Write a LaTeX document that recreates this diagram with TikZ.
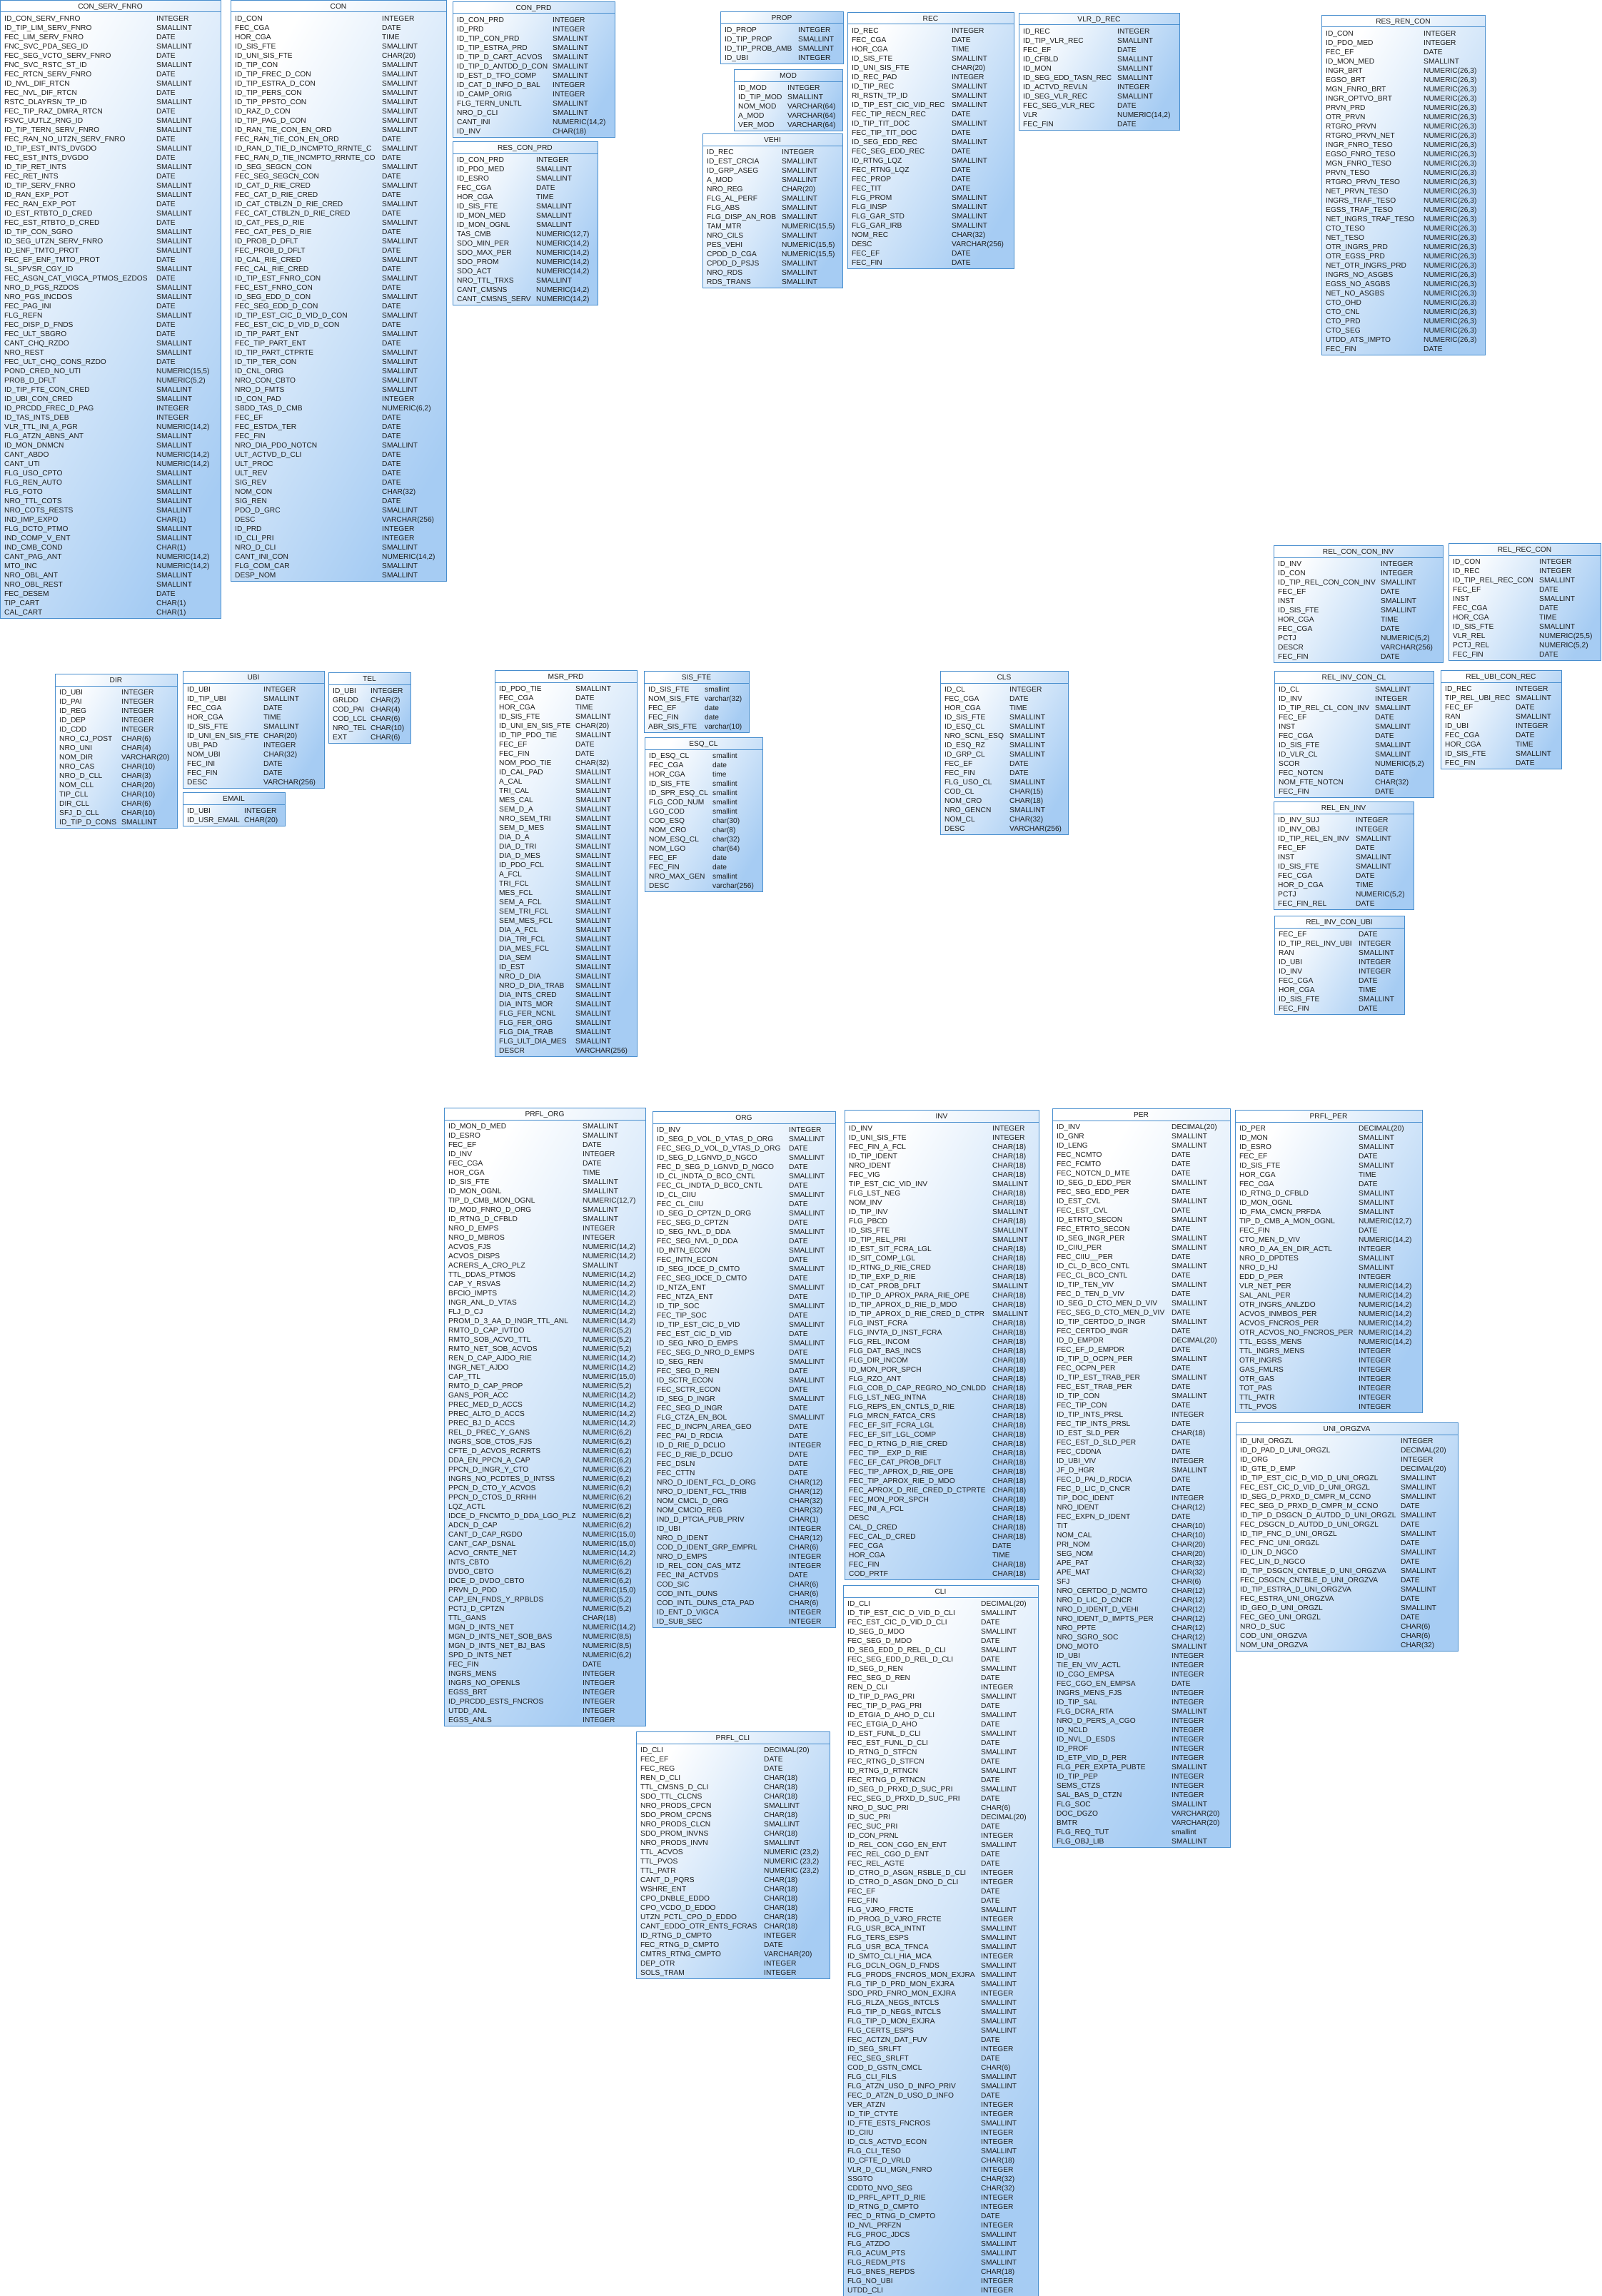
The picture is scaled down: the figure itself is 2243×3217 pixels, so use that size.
\documentclass[tikz,border=0pt]{standalone}
\usepackage{fontspec}
\setmainfont{Liberation Sans}
\usetikzlibrary{backgrounds}
\definecolor{tblblue}{RGB}{166,204,243}
\definecolor{tblline}{RGB}{72,142,206}
\definecolor{txtcol}{RGB}{28,28,28}
\newcommand{\dbtable}[6]{%
  \foreach \fname/\ftype [count=\i] in {#6}{%
    \node[campo] (#1-n\i) at ({#2+6},{#3+29.2+13*(\i-1)}) {\fname};
    \node[campo] (#1-t\i) at ({#2+#5},{#3+29.2+13*(\i-1)}) {\ftype};
    \xdef\dbrows{\i}}
  \pgfmathsetmacro\dbh{21+13*\dbrows}
  \node[titulo] (#1-h) at ({#2+#4/2},{#3+12.3}) {#1};
  \begin{pgfonlayer}{background}
    \node[tabla, minimum width=#4pt, minimum height=\dbh pt] (#1) at (#2,#3) {};
    \draw[linea] (#1.north west) ++(0,17) -- ++(#4,0);
  \end{pgfonlayer}}
\catcode`\_=12
\begin{document}
\begin{tikzpicture}[x=1pt, y=-1pt,
  tabla/.style={draw=tblline, line width=1.2pt, left color=white, right color=tblblue,
                shading angle=60, inner sep=0, anchor=north west},
  campo/.style={inner sep=0, anchor=base west, text=txtcol, font=\fontsize{10.2}{12}\selectfont},
  titulo/.style={campo, anchor=base},
  linea/.style={draw=tblline, line width=1pt}
]
  \useasboundingbox (0,0) rectangle (2243,3217);

  \dbtable{CON_SERV_FNRO}{0}{0}{309}{219}{ID_CON_SERV_FNRO/INTEGER, ID_TIP_LIM_SERV_FNRO/SMALLINT,
    FEC_LIM_SERV_FNRO/DATE, FNC_SVC_PDA_SEG_ID/SMALLINT, FEC_SEG_VCTO_SERV_FNRO/DATE,
    FNC_SVC_RSTC_ST_ID/SMALLINT, FEC_RTCN_SERV_FNRO/DATE, ID_NVL_DIF_RTCN/SMALLINT,
    FEC_NVL_DIF_RTCN/DATE, RSTC_DLAYRSN_TP_ID/SMALLINT, FEC_TIP_RAZ_DMRA_RTCN/DATE,
    FSVC_UUTLZ_RNG_ID/SMALLINT, ID_TIP_TERN_SERV_FNRO/SMALLINT, FEC_RAN_NO_UTZN_SERV_FNRO/DATE,
    ID_TIP_EST_INTS_DVGDO/SMALLINT, FEC_EST_INTS_DVGDO/DATE, ID_TIP_RET_INTS/SMALLINT,
    FEC_RET_INTS/DATE, ID_TIP_SERV_FNRO/SMALLINT, ID_RAN_EXP_POT/SMALLINT, FEC_RAN_EXP_POT/DATE,
    ID_EST_RTBTO_D_CRED/SMALLINT, FEC_EST_RTBTO_D_CRED/DATE, ID_TIP_CON_SGRO/SMALLINT,
    ID_SEG_UTZN_SERV_FNRO/SMALLINT, ID_ENF_TMTO_PROT/SMALLINT, FEC_EF_ENF_TMTO_PROT/DATE,
    SL_SPVSR_CGY_ID/SMALLINT, FEC_ASGN_CAT_VIGCA_PTMOS_EZDOS/DATE, NRO_D_PGS_RZDOS/SMALLINT,
    NRO_PGS_INCDOS/SMALLINT, FEC_PAG_INI/DATE, FLG_REFN/SMALLINT, FEC_DISP_D_FNDS/DATE,
    FEC_ULT_SBGRO/DATE, CANT_CHQ_RZDO/SMALLINT, NRO_REST/SMALLINT, FEC_ULT_CHQ_CONS_RZDO/DATE,
    POND_CRED_NO_UTI/{NUMERIC(15,5)}, PROB_D_DFLT/{NUMERIC(5,2)}, ID_TIP_FTE_CON_CRED/SMALLINT,
    ID_UBI_CON_CRED/SMALLINT, ID_PRCDD_FREC_D_PAG/INTEGER, ID_TAS_INTS_DEB/INTEGER,
    VLR_TTL_INI_A_PGR/{NUMERIC(14,2)}, FLG_ATZN_ABNS_ANT/SMALLINT, ID_MON_DNMCN/SMALLINT,
    CANT_ABDO/{NUMERIC(14,2)}, CANT_UTI/{NUMERIC(14,2)}, FLG_USO_CPTO/SMALLINT, FLG_REN_AUTO/SMALLINT,
    FLG_FOTO/SMALLINT, NRO_TTL_COTS/SMALLINT, NRO_COTS_RESTS/SMALLINT, IND_IMP_EXPO/CHAR(1),
    FLG_DCTO_PTMO/SMALLINT, IND_COMP_V_ENT/SMALLINT, IND_CMB_COND/CHAR(1),
    CANT_PAG_ANT/{NUMERIC(14,2)}, MTO_INC/{NUMERIC(14,2)}, NRO_OBL_ANT/SMALLINT,
    NRO_OBL_REST/SMALLINT, FEC_DESEM/DATE, TIP_CART/CHAR(1), CAL_CART/CHAR(1)}

  \dbtable{CON}{323}{0}{302}{212}{ID_CON/INTEGER, FEC_CGA/DATE, HOR_CGA/TIME, ID_SIS_FTE/SMALLINT,
    ID_UNI_SIS_FTE/CHAR(20), ID_TIP_CON/SMALLINT, ID_TIP_FREC_D_CON/SMALLINT,
    ID_TIP_ESTRA_D_CON/SMALLINT, ID_TIP_PERS_CON/SMALLINT, ID_TIP_PPSTO_CON/SMALLINT,
    ID_RAZ_D_CON/SMALLINT, ID_TIP_PAG_D_CON/SMALLINT, ID_RAN_TIE_CON_EN_ORD/SMALLINT,
    FEC_RAN_TIE_CON_EN_ORD/DATE, ID_RAN_D_TIE_D_INCMPTO_RRNTE_C/SMALLINT,
    FEC_RAN_D_TIE_INCMPTO_RRNTE_CO/DATE, ID_SEG_SEGCN_CON/SMALLINT, FEC_SEG_SEGCN_CON/DATE,
    ID_CAT_D_RIE_CRED/SMALLINT, FEC_CAT_D_RIE_CRED/DATE, ID_CAT_CTBLZN_D_RIE_CRED/SMALLINT,
    FEC_CAT_CTBLZN_D_RIE_CRED/DATE, ID_CAT_PES_D_RIE/SMALLINT, FEC_CAT_PES_D_RIE/DATE,
    ID_PROB_D_DFLT/SMALLINT, FEC_PROB_D_DFLT/DATE, ID_CAL_RIE_CRED/SMALLINT, FEC_CAL_RIE_CRED/DATE,
    ID_TIP_EST_FNRO_CON/SMALLINT, FEC_EST_FNRO_CON/DATE, ID_SEG_EDD_D_CON/SMALLINT,
    FEC_SEG_EDD_D_CON/DATE, ID_TIP_EST_CIC_D_VID_D_CON/SMALLINT, FEC_EST_CIC_D_VID_D_CON/DATE,
    ID_TIP_PART_ENT/SMALLINT, FEC_TIP_PART_ENT/DATE, ID_TIP_PART_CTPRTE/SMALLINT,
    ID_TIP_TER_CON/SMALLINT, ID_CNL_ORIG/SMALLINT, NRO_CON_CBTO/SMALLINT, NRO_D_FMTS/SMALLINT,
    ID_CON_PAD/INTEGER, SBDD_TAS_D_CMB/{NUMERIC(6,2)}, FEC_EF/DATE, FEC_ESTDA_TER/DATE, FEC_FIN/DATE,
    NRO_DIA_PDO_NOTCN/SMALLINT, ULT_ACTVD_D_CLI/DATE, ULT_PROC/DATE, ULT_REV/DATE, SIG_REV/DATE,
    NOM_CON/CHAR(32), SIG_REN/DATE, PDO_D_GRC/SMALLINT, DESC/VARCHAR(256), ID_PRD/INTEGER,
    ID_CLI_PRI/INTEGER, NRO_D_CLI/SMALLINT, CANT_INI_CON/{NUMERIC(14,2)}, FLG_COM_CAR/SMALLINT,
    DESP_NOM/SMALLINT}

  \dbtable{CON_PRD}{634}{2}{227}{140}{ID_CON_PRD/INTEGER, ID_PRD/INTEGER, ID_TIP_CON_PRD/SMALLINT,
    ID_TIP_ESTRA_PRD/SMALLINT, ID_TIP_D_CART_ACVOS/SMALLINT, ID_TIP_D_ANTDD_D_CON/SMALLINT,
    ID_EST_D_TFO_COMP/SMALLINT, ID_CAT_D_INFO_D_BAL/INTEGER, ID_CAMP_ORIG/INTEGER,
    FLG_TERN_UNLTL/SMALLINT, NRO_D_CLI/SMALLINT, CANT_INI/{NUMERIC(14,2)}, ID_INV/CHAR(18)}

  \dbtable{RES_CON_PRD}{634}{198}{203}{117}{ID_CON_PRD/INTEGER, ID_PDO_MED/SMALLINT, ID_ESRO/SMALLINT,
    FEC_CGA/DATE, HOR_CGA/TIME, ID_SIS_FTE/SMALLINT, ID_MON_MED/SMALLINT, ID_MON_OGNL/SMALLINT,
    TAS_CMB/{NUMERIC(12,7)}, SDO_MIN_PER/{NUMERIC(14,2)}, SDO_MAX_PER/{NUMERIC(14,2)},
    SDO_PROM/{NUMERIC(14,2)}, SDO_ACT/{NUMERIC(14,2)}, NRO_TTL_TRXS/SMALLINT,
    CANT_CMSNS/{NUMERIC(14,2)}, CANT_CMSNS_SERV/{NUMERIC(14,2)}}

  \dbtable{PROP}{1009}{16}{172}{109}{ID_PROP/INTEGER, ID_TIP_PROP/SMALLINT, ID_TIP_PROB_AMB/SMALLINT,
    ID_UBI/INTEGER}

  \dbtable{MOD}{1028}{97}{152}{75}{ID_MOD/INTEGER, ID_TIP_MOD/SMALLINT, NOM_MOD/VARCHAR(64),
    A_MOD/VARCHAR(64), VER_MOD/VARCHAR(64)}

  \dbtable{VEHI}{984}{187}{196}{111}{ID_REC/INTEGER, ID_EST_CRCIA/SMALLINT, ID_GRP_ASEG/SMALLINT,
    A_MOD/SMALLINT, NRO_REG/CHAR(20), FLG_AL_PERF/SMALLINT, FLG_ABS/SMALLINT,
    FLG_DISP_AN_ROB/SMALLINT, TAM_MTR/{NUMERIC(15,5)}, NRO_CILS/SMALLINT, PES_VEHI/{NUMERIC(15,5)},
    CPDD_D_CGA/{NUMERIC(15,5)}, CPDD_D_PSJS/SMALLINT, NRO_RDS/SMALLINT, RDS_TRANS/SMALLINT}

  \dbtable{REC}{1187}{17}{233}{146}{ID_REC/INTEGER, FEC_CGA/DATE, HOR_CGA/TIME, ID_SIS_FTE/SMALLINT,
    ID_UNI_SIS_FTE/CHAR(20), ID_REC_PAD/INTEGER, ID_TIP_REC/SMALLINT, RI_RSTN_TP_ID/SMALLINT,
    ID_TIP_EST_CIC_VID_REC/SMALLINT, FEC_TIP_RECN_REC/DATE, ID_TIP_TIT_DOC/SMALLINT,
    FEC_TIP_TIT_DOC/DATE, ID_SEG_EDD_REC/SMALLINT, FEC_SEG_EDD_REC/DATE, ID_RTNG_LQZ/SMALLINT,
    FEC_RTNG_LQZ/DATE, FEC_PROP/DATE, FEC_TIT/DATE, FLG_PROM/SMALLINT, FLG_INSP/SMALLINT,
    FLG_GAR_STD/SMALLINT, FLG_GAR_IRB/SMALLINT, NOM_REC/CHAR(32), DESC/VARCHAR(256), FEC_EF/DATE,
    FEC_FIN/DATE}

  \dbtable{VLR_D_REC}{1427}{18}{225}{138}{ID_REC/INTEGER, ID_TIP_VLR_REC/SMALLINT, FEC_EF/DATE,
    ID_CFBLD/SMALLINT, ID_MON/SMALLINT, ID_SEG_EDD_TASN_REC/SMALLINT, ID_ACTVD_REVLN/INTEGER,
    ID_SEG_VLR_REC/SMALLINT, FEC_SEG_VLR_REC/DATE, VLR/{NUMERIC(14,2)}, FEC_FIN/DATE}

  \dbtable{RES_REN_CON}{1851}{21}{229}{143}{ID_CON/INTEGER, ID_PDO_MED/INTEGER, FEC_EF/DATE,
    ID_MON_MED/SMALLINT, INGR_BRT/{NUMERIC(26,3)}, EGSO_BRT/{NUMERIC(26,3)},
    MGN_FNRO_BRT/{NUMERIC(26,3)}, INGR_OPTVO_BRT/{NUMERIC(26,3)}, PRVN_PRD/{NUMERIC(26,3)},
    OTR_PRVN/{NUMERIC(26,3)}, RTGRO_PRVN/{NUMERIC(26,3)}, RTGRO_PRVN_NET/{NUMERIC(26,3)},
    INGR_FNRO_TESO/{NUMERIC(26,3)}, EGSO_FNRO_TESO/{NUMERIC(26,3)}, MGN_FNRO_TESO/{NUMERIC(26,3)},
    PRVN_TESO/{NUMERIC(26,3)}, RTGRO_PRVN_TESO/{NUMERIC(26,3)}, NET_PRVN_TESO/{NUMERIC(26,3)},
    INGRS_TRAF_TESO/{NUMERIC(26,3)}, EGSS_TRAF_TESO/{NUMERIC(26,3)},
    NET_INGRS_TRAF_TESO/{NUMERIC(26,3)}, CTO_TESO/{NUMERIC(26,3)}, NET_TESO/{NUMERIC(26,3)},
    OTR_INGRS_PRD/{NUMERIC(26,3)}, OTR_EGSS_PRD/{NUMERIC(26,3)}, NET_OTR_INGRS_PRD/{NUMERIC(26,3)},
    INGRS_NO_ASGBS/{NUMERIC(26,3)}, EGSS_NO_ASGBS/{NUMERIC(26,3)}, NET_NO_ASGBS/{NUMERIC(26,3)},
    CTO_OHD/{NUMERIC(26,3)}, CTO_CNL/{NUMERIC(26,3)}, CTO_PRD/{NUMERIC(26,3)},
    CTO_SEG/{NUMERIC(26,3)}, UTDD_ATS_IMPTO/{NUMERIC(26,3)}, FEC_FIN/DATE}

  \dbtable{REL_CON_CON_INV}{1784}{764}{237}{150}{ID_INV/INTEGER, ID_CON/INTEGER,
    ID_TIP_REL_CON_CON_INV/SMALLINT, FEC_EF/DATE, INST/SMALLINT, ID_SIS_FTE/SMALLINT, HOR_CGA/TIME,
    FEC_CGA/DATE, PCTJ/{NUMERIC(5,2)}, DESCR/VARCHAR(256), FEC_FIN/DATE}

  \dbtable{REL_REC_CON}{2029}{761}{213}{127}{ID_CON/INTEGER, ID_REC/INTEGER,
    ID_TIP_REL_REC_CON/SMALLINT, FEC_EF/DATE, INST/SMALLINT, FEC_CGA/DATE, HOR_CGA/TIME,
    ID_SIS_FTE/SMALLINT, VLR_REL/{NUMERIC(25,5)}, PCTJ_REL/{NUMERIC(5,2)}, FEC_FIN/DATE}

  \dbtable{REL_INV_CON_CL}{1785}{940}{223}{141}{ID_CL/SMALLINT, ID_INV/INTEGER,
    ID_TIP_REL_CL_CON_INV/SMALLINT, FEC_EF/DATE, INST/SMALLINT, FEC_CGA/DATE, ID_SIS_FTE/SMALLINT,
    ID_VLR_CL/SMALLINT, SCOR/{NUMERIC(5,2)}, FEC_NOTCN/DATE, NOM_FTE_NOTCN/CHAR(32), FEC_FIN/DATE}

  \dbtable{REL_UBI_CON_REC}{2018}{939}{169}{105}{ID_REC/INTEGER, TIP_REL_UBI_REC/SMALLINT,
    FEC_EF/DATE, RAN/SMALLINT, ID_UBI/INTEGER, FEC_CGA/DATE, HOR_CGA/TIME, ID_SIS_FTE/SMALLINT,
    FEC_FIN/DATE}

  \dbtable{REL_EN_INV}{1784}{1123}{196}{115}{ID_INV_SUJ/INTEGER, ID_INV_OBJ/INTEGER,
    ID_TIP_REL_EN_INV/SMALLINT, FEC_EF/DATE, INST/SMALLINT, ID_SIS_FTE/SMALLINT, FEC_CGA/DATE,
    HOR_D_CGA/TIME, PCTJ/{NUMERIC(5,2)}, FEC_FIN_REL/DATE}

  \dbtable{REL_INV_CON_UBI}{1785}{1283}{182}{118}{FEC_EF/DATE, ID_TIP_REL_INV_UBI/INTEGER,
    RAN/SMALLINT, ID_UBI/INTEGER, ID_INV/INTEGER, FEC_CGA/DATE, HOR_CGA/TIME, ID_SIS_FTE/SMALLINT,
    FEC_FIN/DATE}

  \dbtable{DIR}{77}{944}{171}{93}{ID_UBI/INTEGER, ID_PAI/INTEGER, ID_REG/INTEGER, ID_DEP/INTEGER,
    ID_CDD/INTEGER, NRO_CJ_POST/CHAR(6), NRO_UNI/CHAR(4), NOM_DIR/VARCHAR(20), NRO_CAS/CHAR(10),
    NRO_D_CLL/CHAR(3), NOM_CLL/CHAR(20), TIP_CLL/CHAR(10), DIR_CLL/CHAR(6), SFJ_D_CLL/CHAR(10),
    ID_TIP_D_CONS/SMALLINT}

  \dbtable{UBI}{256}{940}{198}{113}{ID_UBI/INTEGER, ID_TIP_UBI/SMALLINT, FEC_CGA/DATE, HOR_CGA/TIME,
    ID_SIS_FTE/SMALLINT, ID_UNI_EN_SIS_FTE/CHAR(20), UBI_PAD/INTEGER, NOM_UBI/CHAR(32),
    FEC_INI/DATE, FEC_FIN/DATE, DESC/VARCHAR(256)}

  \dbtable{TEL}{460}{942}{115}{59}{ID_UBI/INTEGER, GRLDD/CHAR(2), COD_PAI/CHAR(4), COD_LCL/CHAR(6),
    NRO_TEL/CHAR(10), EXT/CHAR(6)}

  \dbtable{EMAIL}{256}{1110}{143}{86}{ID_UBI/INTEGER, ID_USR_EMAIL/CHAR(20)}

  \dbtable{MSR_PRD}{693}{939}{199}{113}{ID_PDO_TIE/SMALLINT, FEC_CGA/DATE, HOR_CGA/TIME,
    ID_SIS_FTE/SMALLINT, ID_UNI_EN_SIS_FTE/CHAR(20), ID_TIP_PDO_TIE/SMALLINT, FEC_EF/DATE,
    FEC_FIN/DATE, NOM_PDO_TIE/CHAR(32), ID_CAL_PAD/SMALLINT, A_CAL/SMALLINT, TRI_CAL/SMALLINT,
    MES_CAL/SMALLINT, SEM_D_A/SMALLINT, NRO_SEM_TRI/SMALLINT, SEM_D_MES/SMALLINT, DIA_D_A/SMALLINT,
    DIA_D_TRI/SMALLINT, DIA_D_MES/SMALLINT, ID_PDO_FCL/SMALLINT, A_FCL/SMALLINT, TRI_FCL/SMALLINT,
    MES_FCL/SMALLINT, SEM_A_FCL/SMALLINT, SEM_TRI_FCL/SMALLINT, SEM_MES_FCL/SMALLINT,
    DIA_A_FCL/SMALLINT, DIA_TRI_FCL/SMALLINT, DIA_MES_FCL/SMALLINT, DIA_SEM/SMALLINT,
    ID_EST/SMALLINT, NRO_D_DIA/SMALLINT, NRO_D_DIA_TRAB/SMALLINT, DIA_INTS_CRED/SMALLINT,
    DIA_INTS_MOR/SMALLINT, FLG_FER_NCNL/SMALLINT, FLG_FER_ORG/SMALLINT, FLG_DIA_TRAB/SMALLINT,
    FLG_ULT_DIA_MES/SMALLINT, DESCR/VARCHAR(256)}

  \dbtable{SIS_FTE}{902}{940}{147}{85}{ID_SIS_FTE/smallint, NOM_SIS_FTE/varchar(32), FEC_EF/date,
    FEC_FIN/date, ABR_SIS_FTE/varchar(10)}

  \dbtable{ESQ_CL}{903}{1033}{165}{95}{ID_ESQ_CL/smallint, FEC_CGA/date, HOR_CGA/time,
    ID_SIS_FTE/smallint, ID_SPR_ESQ_CL/smallint, FLG_COD_NUM/smallint, LGO_COD/smallint,
    COD_ESQ/char(30), NOM_CRO/char(8), NOM_ESQ_CL/char(32), NOM_LGO/char(64), FEC_EF/date,
    FEC_FIN/date, NRO_MAX_GEN/smallint, DESC/varchar(256)}

  \dbtable{CLS}{1317}{940}{179}{97}{ID_CL/INTEGER, FEC_CGA/DATE, HOR_CGA/TIME, ID_SIS_FTE/SMALLINT,
    ID_ESQ_CL/SMALLINT, NRO_SCNL_ESQ/SMALLINT, ID_ESQ_RZ/SMALLINT, ID_GRP_CL/SMALLINT, FEC_EF/DATE,
    FEC_FIN/DATE, FLG_USO_CL/SMALLINT, COD_CL/CHAR(15), NOM_CRO/CHAR(18), NRO_GENCN/SMALLINT,
    NOM_CL/CHAR(32), DESC/VARCHAR(256)}

  \dbtable{PRFL_ORG}{622}{1552}{282}{194}{ID_MON_D_MED/SMALLINT, ID_ESRO/SMALLINT, FEC_EF/DATE,
    ID_INV/INTEGER, FEC_CGA/DATE, HOR_CGA/TIME, ID_SIS_FTE/SMALLINT, ID_MON_OGNL/SMALLINT,
    TIP_D_CMB_MON_OGNL/{NUMERIC(12,7)}, ID_MOD_FNRO_D_ORG/SMALLINT, ID_RTNG_D_CFBLD/SMALLINT,
    NRO_D_EMPS/INTEGER, NRO_D_MBROS/INTEGER, ACVOS_FJS/{NUMERIC(14,2)}, ACVOS_DISPS/{NUMERIC(14,2)},
    ACRERS_A_CRO_PLZ/SMALLINT, TTL_DDAS_PTMOS/{NUMERIC(14,2)}, CAP_Y_RSVAS/{NUMERIC(14,2)},
    BFCIO_IMPTS/{NUMERIC(14,2)}, INGR_ANL_D_VTAS/{NUMERIC(14,2)}, FLJ_D_CJ/{NUMERIC(14,2)},
    PROM_D_3_AA_D_INGR_TTL_ANL/{NUMERIC(14,2)}, RMTO_D_CAP_IVTDO/{NUMERIC(5,2)},
    RMTO_SOB_ACVO_TTL/{NUMERIC(5,2)}, RMTO_NET_SOB_ACVOS/{NUMERIC(5,2)},
    REN_D_CAP_AJDO_RIE/{NUMERIC(14,2)}, INGR_NET_AJDO/{NUMERIC(14,2)}, CAP_TTL/{NUMERIC(15,0)},
    RMTO_D_CAP_PROP/{NUMERIC(5,2)}, GANS_POR_ACC/{NUMERIC(14,2)}, PREC_MED_D_ACCS/{NUMERIC(14,2)},
    PREC_ALTO_D_ACCS/{NUMERIC(14,2)}, PREC_BJ_D_ACCS/{NUMERIC(14,2)},
    REL_D_PREC_Y_GANS/{NUMERIC(6,2)}, INGRS_SOB_CTOS_FJS/{NUMERIC(6,2)},
    CFTE_D_ACVOS_RCRRTS/{NUMERIC(6,2)}, DDA_EN_PPCN_A_CAP/{NUMERIC(6,2)},
    PPCN_D_INGR_Y_CTO/{NUMERIC(6,2)}, INGRS_NO_PCDTES_D_INTSS/{NUMERIC(6,2)},
    PPCN_D_CTO_Y_ACVOS/{NUMERIC(6,2)}, PPCN_D_CTOS_D_RRHH/{NUMERIC(6,2)}, LQZ_ACTL/{NUMERIC(6,2)},
    IDCE_D_FNCMTO_D_DDA_LGO_PLZ/{NUMERIC(6,2)}, ADCN_D_CAP/{NUMERIC(6,2)},
    CANT_D_CAP_RGDO/{NUMERIC(15,0)}, CANT_CAP_DSNAL/{NUMERIC(15,0)},
    ACVO_CRNTE_NET/{NUMERIC(14,2)}, INTS_CBTO/{NUMERIC(6,2)}, DVDO_CBTO/{NUMERIC(6,2)},
    IDCE_D_DVDO_CBTO/{NUMERIC(6,2)}, PRVN_D_PDD/{NUMERIC(15,0)},
    CAP_EN_FNDS_Y_RPBLDS/{NUMERIC(5,2)}, PCTJ_D_CPTZN/{NUMERIC(5,2)}, TTL_GANS/CHAR(18),
    MGN_D_INTS_NET/{NUMERIC(14,2)}, MGN_D_INTS_NET_SOB_BAS/{NUMERIC(8,5)},
    MGN_D_INTS_NET_BJ_BAS/{NUMERIC(8,5)}, SPD_D_INTS_NET/{NUMERIC(6,2)}, FEC_FIN/DATE,
    INGRS_MENS/INTEGER, INGRS_NO_OPENLS/INTEGER, EGSS_BRT/INTEGER, ID_PRCDD_ESTS_FNCROS/INTEGER,
    UTDD_ANL/INTEGER, EGSS_ANLS/INTEGER}

  \dbtable{ORG}{914}{1557}{256}{191}{ID_INV/INTEGER, ID_SEG_D_VOL_D_VTAS_D_ORG/SMALLINT,
    FEC_SEG_D_VOL_D_VTAS_D_ORG/DATE, ID_SEG_D_LGNVD_D_NGCO/SMALLINT, FEC_D_SEG_D_LGNVD_D_NGCO/DATE,
    ID_CL_INDTA_D_BCO_CNTL/SMALLINT, FEC_CL_INDTA_D_BCO_CNTL/DATE, ID_CL_CIIU/SMALLINT,
    FEC_CL_CIIU/DATE, ID_SEG_D_CPTZN_D_ORG/SMALLINT, FEC_SEG_D_CPTZN/DATE,
    ID_SEG_NVL_D_DDA/SMALLINT, FEC_SEG_NVL_D_DDA/DATE, ID_INTN_ECON/SMALLINT, FEC_INTN_ECON/DATE,
    ID_SEG_IDCE_D_CMTO/SMALLINT, FEC_SEG_IDCE_D_CMTO/DATE, ID_NTZA_ENT/SMALLINT, FEC_NTZA_ENT/DATE,
    ID_TIP_SOC/SMALLINT, FEC_TIP_SOC/DATE, ID_TIP_EST_CIC_D_VID/SMALLINT, FEC_EST_CIC_D_VID/DATE,
    ID_SEG_NRO_D_EMPS/SMALLINT, FEC_SEG_D_NRO_D_EMPS/DATE, ID_SEG_REN/SMALLINT, FEC_SEG_D_REN/DATE,
    ID_SCTR_ECON/SMALLINT, FEC_SCTR_ECON/DATE, ID_SEG_D_INGR/SMALLINT, FEC_SEG_D_INGR/DATE,
    FLG_CTZA_EN_BOL/SMALLINT, FEC_D_INCPN_AREA_GEO/DATE, FEC_PAI_D_RDCIA/DATE,
    ID_D_RIE_D_DCLIO/INTEGER, FEC_D_RIE_D_DCLIO/DATE, FEC_DSLN/DATE, FEC_CTTN/DATE,
    NRO_D_IDENT_FCL_D_ORG/CHAR(12), NRO_D_IDENT_FCL_TRIB/CHAR(12), NOM_CMCL_D_ORG/CHAR(32),
    NOM_CMCIO_REG/CHAR(32), IND_D_PTCIA_PUB_PRIV/CHAR(1), ID_UBI/INTEGER, NRO_D_IDENT/CHAR(12),
    COD_D_IDENT_GRP_EMPRL/CHAR(6), NRO_D_EMPS/INTEGER, ID_REL_CON_CAS_MTZ/INTEGER,
    FEC_INI_ACTVDS/DATE, COD_SIC/CHAR(6), COD_INTL_DUNS/CHAR(6), COD_INTL_DUNS_CTA_PAD/CHAR(6),
    ID_ENT_D_VIGCA/INTEGER, ID_SUB_SEC/INTEGER}

  \dbtable{INV}{1183}{1555}{272}{207}{ID_INV/INTEGER, ID_UNI_SIS_FTE/INTEGER, FEC_FIN_A_FCL/CHAR(18),
    ID_TIP_IDENT/CHAR(18), NRO_IDENT/CHAR(18), FEC_VIG/CHAR(18), TIP_EST_CIC_VID_INV/SMALLINT,
    FLG_LST_NEG/CHAR(18), NOM_INV/CHAR(18), ID_TIP_INV/SMALLINT, FLG_PBCD/CHAR(18),
    ID_SIS_FTE/SMALLINT, ID_TIP_REL_PRI/SMALLINT, ID_EST_SIT_FCRA_LGL/CHAR(18),
    ID_SIT_COMP_LGL/CHAR(18), ID_RTNG_D_RIE_CRED/CHAR(18), ID_TIP_EXP_D_RIE/CHAR(18),
    ID_CAT_PROB_DFLT/SMALLINT, ID_TIP_D_APROX_PARA_RIE_OPE/CHAR(18),
    ID_TIP_APROX_D_RIE_D_MDO/CHAR(18), ID_TIP_APROX_D_RIE_CRED_D_CTPR/SMALLINT,
    FLG_INST_FCRA/CHAR(18), FLG_INVTA_D_INST_FCRA/CHAR(18), FLG_REL_INCOM/CHAR(18),
    FLG_DAT_BAS_INCS/CHAR(18), FLG_DIR_INCOM/CHAR(18), ID_MON_POR_SPCH/CHAR(18),
    FLG_RZO_ANT/CHAR(18), FLG_COB_D_CAP_REGRO_NO_CNLDD/CHAR(18), FLG_LST_NEG_INTNA/CHAR(18),
    FLG_REPS_EN_CNTLS_D_RIE/CHAR(18), FLG_MRCN_FATCA_CRS/CHAR(18), FEC_EF_SIT_FCRA_LGL/CHAR(18),
    FEC_EF_SIT_LGL_COMP/CHAR(18), FEC_D_RTNG_D_RIE_CRED/CHAR(18), FEC_TIP__EXP_D_RIE/CHAR(18),
    FEC_EF_CAT_PROB_DFLT/CHAR(18), FEC_TIP_APROX_D_RIE_OPE/CHAR(18),
    FEC_TIP_APROX_RIE_D_MDO/CHAR(18), FEC_APROX_D_RIE_CRED_D_CTPRTE/CHAR(18),
    FEC_MON_POR_SPCH/CHAR(18), FEC_INI_A_FCL/CHAR(18), DESC/CHAR(18), CAL_D_CRED/CHAR(18),
    FEC_CAL_D_CRED/CHAR(18), FEC_CGA/DATE, HOR_CGA/TIME, FEC_FIN/CHAR(18), COD_PRTF/CHAR(18)}

  \dbtable{PER}{1474}{1553}{249}{167}{ID_INV/DECIMAL(20), ID_GNR/SMALLINT, ID_LENG/SMALLINT,
    FEC_NCMTO/DATE, FEC_FCMTO/DATE, FEC_NOTCN_D_MTE/DATE, ID_SEG_D_EDD_PER/SMALLINT,
    FEC_SEG_EDD_PER/DATE, ID_EST_CVL/SMALLINT, FEC_EST_CVL/DATE, ID_ETRTO_SECON/SMALLINT,
    FEC_ETRTO_SECON/DATE, ID_SEG_INGR_PER/SMALLINT, ID_CIIU_PER/SMALLINT, FEC_CIIU__PER/DATE,
    ID_CL_D_BCO_CNTL/SMALLINT, FEC_CL_BCO_CNTL/DATE, ID_TIP_TEN_VIV/SMALLINT, FEC_D_TEN_D_VIV/DATE,
    ID_SEG_D_CTO_MEN_D_VIV/SMALLINT, FEC_SEG_D_CTO_MEN_D_VIV/DATE, ID_TIP_CERTDO_D_INGR/SMALLINT,
    FEC_CERTDO_INGR/DATE, ID_D_EMPDR/DECIMAL(20), FEC_EF_D_EMPDR/DATE, ID_TIP_D_OCPN_PER/SMALLINT,
    FEC_OCPN_PER/DATE, ID_TIP_EST_TRAB_PER/SMALLINT, FEC_EST_TRAB_PER/DATE, ID_TIP_CON/SMALLINT,
    FEC_TIP_CON/DATE, ID_TIP_INTS_PRSL/INTEGER, FEC_TIP_INTS_PRSL/DATE, ID_EST_SLD_PER/CHAR(18),
    FEC_EST_D_SLD_PER/DATE, FEC_CDDNA/DATE, ID_UBI_VIV/INTEGER, JF_D_HGR/SMALLINT,
    FEC_D_PAI_D_RDCIA/DATE, FEC_D_LIC_D_CNCR/DATE, TIP_DOC_IDENT/INTEGER, NRO_IDENT/CHAR(12),
    FEC_EXPN_D_IDENT/DATE, TIT/CHAR(10), NOM_CAL/CHAR(10), PRI_NOM/CHAR(20), SEG_NOM/CHAR(20),
    APE_PAT/CHAR(32), APE_MAT/CHAR(32), SFJ/CHAR(6), NRO_CERTDO_D_NCMTO/CHAR(12),
    NRO_D_LIC_D_CNCR/CHAR(12), NRO_D_IDENT_D_VEHI/CHAR(12), NRO_IDENT_D_IMPTS_PER/CHAR(12),
    NRO_PPTE/CHAR(12), NRO_SGRO_SOC/CHAR(12), DNO_MOTO/SMALLINT, ID_UBI/INTEGER,
    TIE_EN_VIV_ACTL/INTEGER, ID_CGO_EMPSA/INTEGER, FEC_CGO_EN_EMPSA/DATE, INGRS_MENS_FJS/INTEGER,
    ID_TIP_SAL/INTEGER, FLG_DCRA_RTA/SMALLINT, NRO_D_PERS_A_CGO/INTEGER, ID_NCLD/INTEGER,
    ID_NVL_D_ESDS/INTEGER, ID_PROF/INTEGER, ID_ETP_VID_D_PER/INTEGER, FLG_PER_EXPTA_PUBTE/SMALLINT,
    ID_TIP_PEP/INTEGER, SEMS_CTZS/INTEGER, SAL_BAS_D_CTZN/INTEGER, FLG_SOC/SMALLINT,
    DOC_DGZO/VARCHAR(20), BMTR/VARCHAR(20), FLG_REQ_TUT/smallint, FLG_OBJ_LIB/SMALLINT}

  \dbtable{PRFL_PER}{1730}{1555}{262}{173}{ID_PER/DECIMAL(20), ID_MON/SMALLINT, ID_ESRO/SMALLINT,
    FEC_EF/DATE, ID_SIS_FTE/SMALLINT, HOR_CGA/TIME, FEC_CGA/DATE, ID_RTNG_D_CFBLD/SMALLINT,
    ID_MON_OGNL/SMALLINT, ID_FMA_CMCN_PRFDA/SMALLINT, TIP_D_CMB_A_MON_OGNL/{NUMERIC(12,7)},
    FEC_FIN/DATE, CTO_MEN_D_VIV/{NUMERIC(14,2)}, NRO_D_AA_EN_DIR_ACTL/INTEGER,
    NRO_D_DPDTES/SMALLINT, NRO_D_HJ/SMALLINT, EDD_D_PER/INTEGER, VLR_NET_PER/{NUMERIC(14,2)},
    SAL_ANL_PER/{NUMERIC(14,2)}, OTR_INGRS_ANLZDO/{NUMERIC(14,2)}, ACVOS_INMBOS_PER/{NUMERIC(14,2)},
    ACVOS_FNCROS_PER/{NUMERIC(14,2)}, OTR_ACVOS_NO_FNCROS_PER/{NUMERIC(14,2)},
    TTL_EGSS_MENS/{NUMERIC(14,2)}, TTL_INGRS_MENS/INTEGER, OTR_INGRS/INTEGER, GAS_FMLRS/INTEGER,
    OTR_GAS/INTEGER, TOT_PAS/INTEGER, TTL_PATR/INTEGER, TTL_PVOS/INTEGER}

  \dbtable{UNI_ORGZVA}{1731}{1993}{311}{231}{ID_UNI_ORGZL/INTEGER, ID_D_PAD_D_UNI_ORGZL/DECIMAL(20),
    ID_ORG/INTEGER, ID_GTE_D_EMP/DECIMAL(20), ID_TIP_EST_CIC_D_VID_D_UNI_ORGZL/SMALLINT,
    FEC_EST_CIC_D_VID_D_UNI_ORGZL/SMALLINT, ID_SEG_D_PRXD_D_CMPR_M_CCNO/SMALLINT,
    FEC_SEG_D_PRXD_D_CMPR_M_CCNO/DATE, ID_TIP_D_DSGCN_D_AUTDD_D_UNI_ORGZL/SMALLINT,
    FEC_DSGCN_D_AUTDD_D_UNI_ORGZL/DATE, ID_TIP_FNC_D_UNI_ORGZL/SMALLINT, FEC_FNC_UNI_ORGZL/DATE,
    ID_LIN_D_NGCO/SMALLINT, FEC_LIN_D_NGCO/DATE, ID_TIP_DSGCN_CNTBLE_D_UNI_ORGZVA/SMALLINT,
    FEC_DSGCN_CNTBLE_D_UNI_ORGZVA/DATE, ID_TIP_ESTRA_D_UNI_ORGZVA/SMALLINT,
    FEC_ESTRA_UNI_ORGZVA/DATE, ID_GEO_D_UNI_ORGZL/SMALLINT, FEC_GEO_UNI_ORGZL/DATE,
    NRO_D_SUC/CHAR(6), COD_UNI_ORGZVA/CHAR(6), NOM_UNI_ORGZVA/CHAR(32)}

  \dbtable{PRFL_CLI}{891}{2426}{271}{179}{ID_CLI/DECIMAL(20), FEC_EF/DATE, FEC_REG/DATE,
    REN_D_CLI/CHAR(18), TTL_CMSNS_D_CLI/CHAR(18), SDO_TTL_CLCNS/CHAR(18), NRO_PRODS_CPCN/SMALLINT,
    SDO_PROM_CPCNS/CHAR(18), NRO_PRODS_CLCN/SMALLINT, SDO_PROM_INVNS/CHAR(18),
    NRO_PRODS_INVN/SMALLINT, TTL_ACVOS/{NUMERIC (23,2)}, TTL_PVOS/{NUMERIC (23,2)},
    TTL_PATR/{NUMERIC (23,2)}, CANT_D_PQRS/CHAR(18), WSHRE_ENT/CHAR(18), CPO_DNBLE_EDDO/CHAR(18),
    CPO_VCDO_D_EDDO/CHAR(18), UTZN_PCTL_CPO_D_EDDO/CHAR(18), CANT_EDDO_OTR_ENTS_FCRAS/CHAR(18),
    ID_RTNG_D_CMPTO/INTEGER, FEC_RTNG_D_CMPTO/DATE, CMTRS_RTNG_CMPTO/VARCHAR(20), DEP_OTR/INTEGER,
    SOLS_TRAM/INTEGER}

  \dbtable{CLI}{1181}{2221}{273}{193}{ID_CLI/DECIMAL(20), ID_TIP_EST_CIC_D_VID_D_CLI/SMALLINT,
    FEC_EST_CIC_D_VID_D_CLI/DATE, ID_SEG_D_MDO/SMALLINT, FEC_SEG_D_MDO/DATE,
    ID_SEG_EDD_D_REL_D_CLI/SMALLINT, FEC_SEG_EDD_D_REL_D_CLI/DATE, ID_SEG_D_REN/SMALLINT,
    FEC_SEG_D_REN/DATE, REN_D_CLI/INTEGER, ID_TIP_D_PAG_PRI/SMALLINT, FEC_TIP_D_PAG_PRI/DATE,
    ID_ETGIA_D_AHO_D_CLI/SMALLINT, FEC_ETGIA_D_AHO/DATE, ID_EST_FUNL_D_CLI/SMALLINT,
    FEC_EST_FUNL_D_CLI/DATE, ID_RTNG_D_STFCN/SMALLINT, FEC_RTNG_D_STFCN/DATE,
    ID_RTNG_D_RTNCN/SMALLINT, FEC_RTNG_D_RTNCN/DATE, ID_SEG_D_PRXD_D_SUC_PRI/SMALLINT,
    FEC_SEG_D_PRXD_D_SUC_PRI/DATE, NRO_D_SUC_PRI/CHAR(6), ID_SUC_PRI/DECIMAL(20), FEC_SUC_PRI/DATE,
    ID_CON_PRNL/INTEGER, ID_REL_CON_CGO_EN_ENT/SMALLINT, FEC_REL_CGO_D_ENT/DATE, FEC_REL_AGTE/DATE,
    ID_CTRO_D_ASGN_RSBLE_D_CLI/INTEGER, ID_CTRO_D_ASGN_DNO_D_CLI/INTEGER, FEC_EF/DATE, FEC_FIN/DATE,
    FLG_VJRO_FRCTE/SMALLINT, ID_PROG_D_VJRO_FRCTE/INTEGER, FLG_USR_BCA_INTNT/SMALLINT,
    FLG_TERS_ESPS/SMALLINT, FLG_USR_BCA_TFNCA/SMALLINT, ID_SMTO_CLI_HIA_MCA/INTEGER,
    FLG_DCLN_OGN_D_FNDS/SMALLINT, FLG_PRODS_FNCROS_MON_EXJRA/SMALLINT,
    FLG_TIP_D_PRD_MON_EXJRA/SMALLINT, SDO_PRD_FNRO_MON_EXJRA/INTEGER, FLG_RLZA_NEGS_INTCLS/SMALLINT,
    FLG_TIP_D_NEGS_INTCLS/SMALLINT, FLG_TIP_D_MON_EXJRA/SMALLINT, FLG_CERTS_ESPS/SMALLINT,
    FEC_ACTZN_DAT_FUV/DATE, ID_SEG_SRLFT/INTEGER, FEC_SEG_SRLFT/DATE, COD_D_GSTN_CMCL/CHAR(6),
    FLG_CLI_FILS/SMALLINT, FLG_ATZN_USO_D_INFO_PRIV/SMALLINT, FEC_D_ATZN_D_USO_D_INFO/DATE,
    VER_ATZN/INTEGER, ID_TIP_CTYTE/INTEGER, ID_FTE_ESTS_FNCROS/SMALLINT, ID_CIIU/INTEGER,
    ID_CLS_ACTVD_ECON/INTEGER, FLG_CLI_TESO/SMALLINT, ID_CFTE_D_VRLD/CHAR(18),
    VLR_D_CLI_MGN_FNRO/INTEGER, SSGTO/CHAR(32), CDDTO_NVO_SEG/CHAR(32), ID_PRFL_APTT_D_RIE/INTEGER,
    ID_RTNG_D_CMPTO/INTEGER, FEC_D_RTNG_D_CMPTO/DATE, ID_NVL_PRFZN/INTEGER, FLG_PROC_JDCS/SMALLINT,
    FLG_ATZDO/SMALLINT, FLG_ACUM_PTS/SMALLINT, FLG_REDM_PTS/SMALLINT, FLG_BNES_REPDS/CHAR(18),
    FLG_NO_UBI/INTEGER, UTDD_CLI/INTEGER}
\end{tikzpicture}
\end{document}
